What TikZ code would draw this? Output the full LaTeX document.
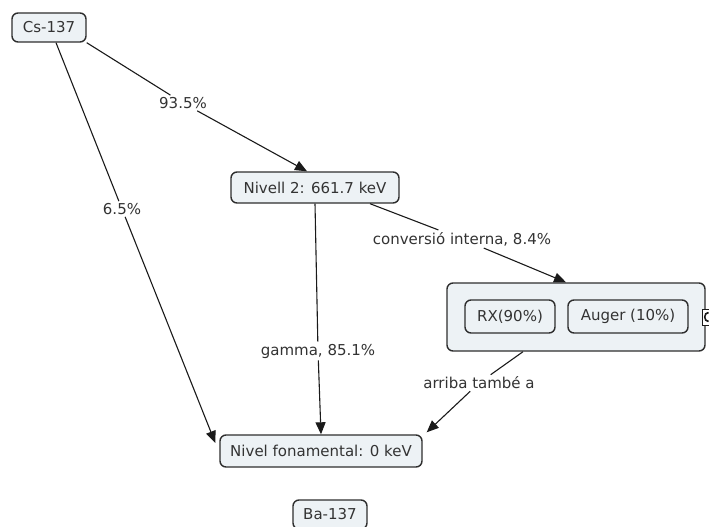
\documentclass[tikz,border=0pt]{standalone}
\usepackage{fontspec}
\setmainfont{DejaVu Sans}
\usetikzlibrary{arrows.meta}
\definecolor{ink}{HTML}{2E2E2E}
\definecolor{wire}{HTML}{1A1A1A}
\definecolor{txt}{HTML}{333333}
\definecolor{conceptfill}{HTML}{EDF2F5}
\begin{document}
\begin{tikzpicture}[x=1pt,y=-1pt,
  font=\fontsize{15}{18}\selectfont,
  concept/.style={draw=ink, line width=1.4pt, fill=conceptfill, rounded corners=6pt,
                  inner sep=0pt, text=txt},
  linklabel/.style={fill=white, inner sep=2pt, text=txt},
  link/.style={draw=wire, line width=1.1pt},
  arrow/.style={link, -{Triangle[length=12pt,width=10pt]}}]
  \useasboundingbox (0,0) rectangle (709,527);
  \clip (0,0) rectangle (709,527);

  % concepts
  \node[concept, minimum width=74pt, minimum height=29pt]  (cs)    at (49,27.5)  {Cs-137};
  \node[concept, minimum width=168pt, minimum height=31pt] (n2)    at (315,187.5) {Nivell 2: 661.7 keV};
  \node[concept, minimum width=258pt, minimum height=68pt] (group) at (576,317)  {};
  \node[concept, minimum width=90pt, minimum height=33pt]  (rx)    at (510,316.5) {RX(90\%)};
  \node[concept, minimum width=120pt, minimum height=33pt] (auger) at (628,316.5) {Auger (10\%)};
  \node[concept, minimum width=202pt, minimum height=32pt] (nf)    at (321,451)  {Nivel fonamental: 0 keV};
  \node[concept, minimum width=74pt, minimum height=29pt]  (ba)    at (330,514.5) {Ba-137};

  % small toggle box on the group's right edge
  \node[draw=wire, fill=white, line width=1pt, minimum width=16pt, minimum height=16pt,
        inner sep=0pt] (tog) at (710,317) {};
  \draw[wire, line width=1.6pt] (708.5,312.5) .. controls (703.5,312.5) and (703.5,321.5) .. (708.5,321.5);

  % link labels
  \node[linklabel] (l1) at (183,103) {93.5\%};
  \node[linklabel] (l2) at (122,209) {6.5\%};
  \node[linklabel] (l3) at (318,351) {gamma, 85.1\%};
  \node[linklabel] (l4) at (462,239) {conversió interna, 8.4\%};
  \node[linklabel] (l5) at (479,383) {arriba també a};

  % connectors
  \draw[link]  (cs.south east) -- (l1);
  \draw[arrow] (l1) -- ([xshift=-8pt]n2.north);

  \draw[link]  ([xshift=7pt]cs.south) -- (l2);
  \draw[arrow] (l2) -- ([xshift=-4pt,yshift=8pt]nf.west);

  \draw[link]  (n2.south) -- (l3);
  \draw[arrow] (l3) -- (nf.north);

  \draw[link]  ([xshift=55pt]n2.south) -- (l4);
  \draw[arrow] (l4) -- ([xshift=-10pt]group.north);

  \draw[link]  ([xshift=-53pt]group.south) -- (l5);
  \draw[arrow] (l5) -- ([xshift=4pt,yshift=2pt]nf.north east);
\end{tikzpicture}
\end{document}
